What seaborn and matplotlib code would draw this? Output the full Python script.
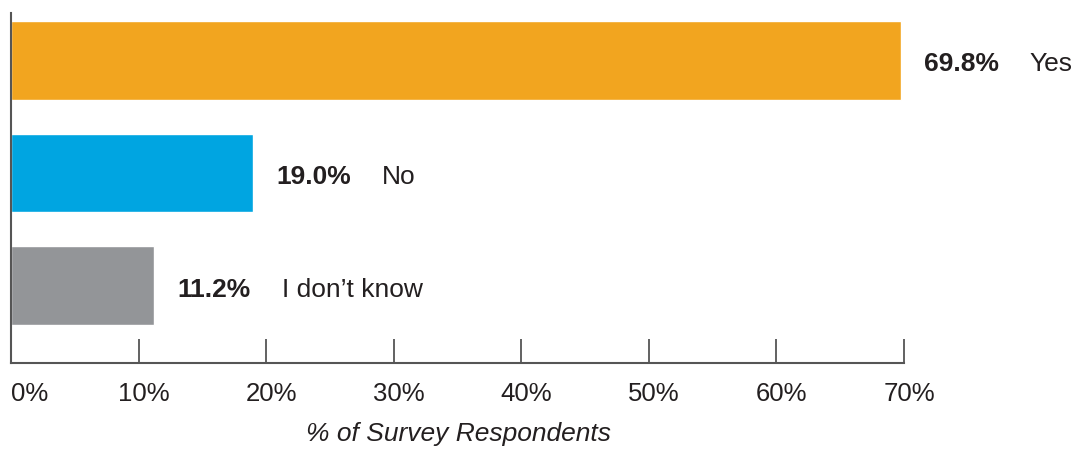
import pandas as pd
import matplotlib.pyplot as plt
import matplotlib.transforms as mtransforms
import seaborn as sns

categories = ["Yes", "No", "I don\u2019t know"]
values = [69.8, 19.0, 11.2]
colors = ["#F2A51F", "#00A5E1", "#939598"]
tick_vals = [0, 10, 20, 30, 40, 50, 60, 70]
tick_labels = ["0%", "10%", "20%", "30%", "40%", "50%", "60%", "70%"]

sns.set_style("white")
plt.rcParams["font.family"] = ["Liberation Sans", "DejaVu Sans"]
TXT = "#231F20"

df = pd.DataFrame({"answer": categories, "pct": values})

fig = plt.figure(figsize=(10.73, 4.49), dpi=100)
W, H = 1073, 449
ax = fig.add_axes([11 / W, 1 - 362.7 / H, (904 - 11) / W, (362.7 - 13) / H])

sns.barplot(data=df, x="pct", y="answer", hue="answer", palette=colors,
            order=categories, hue_order=categories, legend=False,
            width=0.70, saturation=1, ax=ax)

ax.set_xlim(0, 70)
ax.set_ylim(2.686, -0.422)
ax.set_xticks(tick_vals)
ax.set_xticklabels(tick_labels, fontsize=18.5, color=TXT)
ax.set_yticks([])
ax.set_ylabel("")
ax.set_xlabel("")
ax.tick_params(axis="x", bottom=True, direction="in", length=17, width=1.3,
               color="#555555", pad=14)
for side in ["top", "right"]:
    ax.spines[side].set_visible(False)
for side in ["left", "bottom"]:
    ax.spines[side].set_color("#555555")
    ax.spines[side].set_linewidth(1.5)

shift = mtransforms.ScaledTranslation(5 / 100, 0, fig.dpi_scale_trans)
labels = ax.get_xticklabels()
for lab in labels[1:]:
    lab.set_transform(lab.get_transform() + shift)
labels[0].set_horizontalalignment("left")

for i, (cat, v) in enumerate(zip(categories, values)):
    ax.annotate(f"{v:.1f}%", xy=(v, i), xytext=(23, -4), textcoords="offset pixels",
                ha="left", va="center", fontsize=19, fontweight="bold", color=TXT)
    ax.annotate(cat, xy=(v, i), xytext=(128, -4), textcoords="offset pixels",
                ha="left", va="center", fontsize=19, color=TXT)

fig.text(458 / W, 1 - 434 / H, "% of Survey Respondents", ha="center", va="center",
         fontsize=19, fontstyle="italic", color=TXT)

fig.savefig("out.png", dpi=100)
plt.close(fig)
